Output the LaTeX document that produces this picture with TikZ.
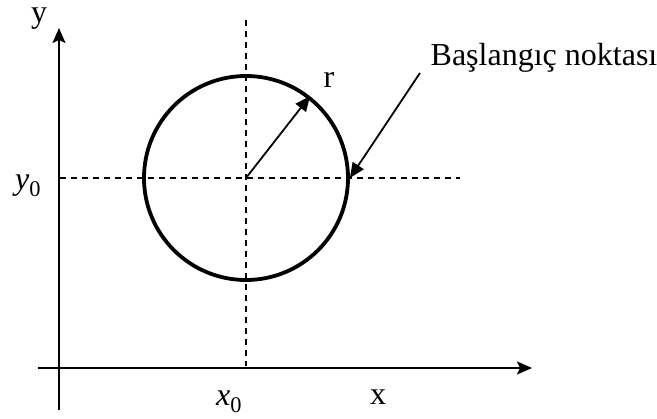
\documentclass[tikz,border=0pt]{standalone}
\usepackage{fontspec}
\setmainfont{Liberation Serif}
\usetikzlibrary{arrows.meta}
\begin{document}
\begin{tikzpicture}[x=1pt,y=-1pt,
  lbl/.style={inner sep=0pt,anchor=base,font=\fontsize{32}{36}\selectfont},
  axis/.style={line width=2pt,-{Stealth[length=15pt,width=13pt,inset=3pt]}},
  guide/.style={line width=1.5pt,dash pattern=on 6pt off 5pt},
  ptr/.style={line width=1.8pt,-{Triangle[length=15pt,width=13pt]}}]
\useasboundingbox (0,0) rectangle (657,419);
% axes
\coordinate (ybot) at (59,410);
\coordinate (ytop) at (59,28);
\coordinate (xleft) at (38,368);
\coordinate (xright) at (532,368);
\draw[axis] (ybot) -- (ytop);
\draw[axis] (xleft) -- (xright);
% guides
\coordinate (c) at (246,178);
\coordinate (vtop) at (246,20);
\coordinate (vbot) at (246,366);
\coordinate (hl) at (60,178);
\coordinate (hr) at (460,178);
\draw[guide] (vtop) -- (vbot);
\draw[guide] (hl) -- (hr);
% circle
\node[circle,draw,line width=3.8pt,minimum size=204pt,inner sep=0pt] (circ) at (c) {};
\draw[ptr] (c) -- (circ.52);
\coordinate (pstart) at (420,73);
\draw[ptr] (pstart) -- (circ.east);
% labels
\node[lbl,text height=15pt] (ly) at (39,23) {y};
\node[lbl] (ly0) at (28,190) {$\mathit{y}_{\mathrm{0}}$};
\node[lbl] (lx0) at (229,406) {$\mathit{x}_{\mathrm{0}}$};
\node[lbl] (lx) at (378,405) {x};
\node[lbl] (lr) at (329,88) {r};
\node[lbl] (lbas) at (544,66) {Başlangıç noktası};
\end{tikzpicture}
\end{document}
